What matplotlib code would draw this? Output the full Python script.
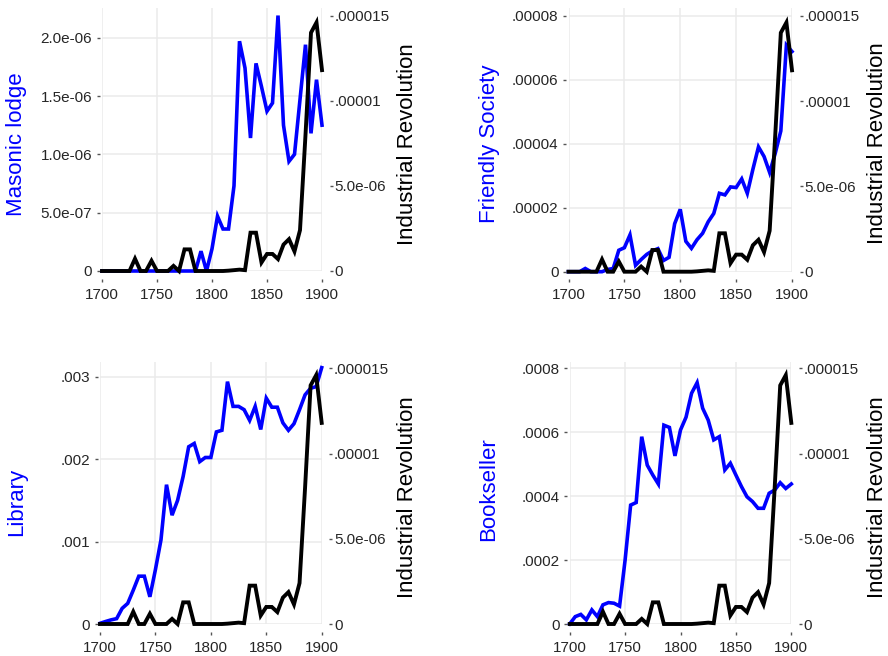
import numpy as np
import matplotlib
matplotlib.use("Agg")
import matplotlib.pyplot as plt

plt.rcParams['font.family'] = ['Liberation Sans', 'DejaVu Sans']

W, H = 888, 656

years = list(range(1700, 1905, 5))

# Industrial Revolution (right axis, same series in every panel), in 1e-6
industrial = np.array([0, 0, 0, 0, 0, 0, 0.72, 0, 0, 0.6,
                       0, 0, 0, 0.3, 0, 1.27, 1.27, 0, 0, 0,
                       0, 0, 0, 0.02, 0.05, 0.08, 0.05, 2.25, 2.25, 0.5,
                       1.0, 1.0, 0.7, 1.55, 1.87, 1.15, 2.4, 8.0, 14.0, 14.6,
                       11.8]) * 1e-6

# blue series (left axis)
masonic = np.array([0, 0, 0, 0, 0, 0, 0, 0, 0, 0,
                    0, 0, 0, 0, 0, 0, 0, 0, 0.17, 0.0,
                    0.19, 0.47, 0.36, 0.36, 0.73, 1.97, 1.74, 1.14, 1.78, 1.58,
                    1.37, 1.44, 2.19, 1.25, 0.94, 1.0, 1.47, 1.94, 1.18, 1.64,
                    1.25]) * 1e-6

friendly = np.array([0, 0, 0, 0.1, 0, 0, 0, 0.07, 0.1, 0.67,
                     0.75, 1.15, 0.2, 0.38, 0.54, 0.65, 0.72, 0.35, 0.45, 1.5,
                     1.95, 0.95, 0.73, 1.0, 1.2, 1.56, 1.82, 2.45, 2.4, 2.65,
                     2.63, 2.9, 2.45, 3.2, 3.9, 3.6, 3.1, 3.7, 4.4, 7.08,
                     6.88]) * 1e-5

library = np.array([0.008, 0.03, 0.05, 0.065, 0.19, 0.25, 0.41, 0.58, 0.58, 0.33,
                    0.66, 1.02, 1.69, 1.32, 1.5, 1.79, 2.15, 2.19, 1.97, 2.02,
                    2.02, 2.33, 2.35, 2.94, 2.64, 2.64, 2.6, 2.47, 2.64, 2.36,
                    2.74, 2.63, 2.63, 2.44, 2.35, 2.43, 2.6, 2.78, 2.86, 2.88,
                    3.11]) * 1e-3

bookseller = np.array([0, 0.23, 0.3, 0.13, 0.44, 0.23, 0.6, 0.67, 0.65, 0.56,
                       2.0, 3.72, 3.8, 5.86, 4.97, 4.66, 4.38, 6.22, 6.15, 5.26,
                       6.07, 6.47, 7.22, 7.55, 6.75, 6.38, 5.76, 5.86, 4.82, 5.03,
                       4.66, 4.3, 3.98, 3.83, 3.62, 3.62, 4.09, 4.19, 4.42, 4.24,
                       4.38]) * 1e-4

right_ticks = [0, 5e-6, 1e-5, 1.5e-5]
right_labels = ['0', '5.0e-06', '.00001', '.000015']

panels = [
    # name, series, left ticks, left labels, box px (x0, x1, ytop, ybot), left top, right top,
    # ylabel pos, right label pos
    ('Masonic lodge', masonic, [0, 5e-7, 1e-6, 1.5e-6, 2e-6],
     ['0', '5.0e-07', '1.0e-06', '1.5e-06', '2.0e-06'],
     (102, 322, 8, 271), 2.2546e-6, 15.45e-6, (17, 144), (407, 144)),
    ('Friendly Society', friendly, [0, 2e-5, 4e-5, 6e-5, 8e-5],
     ['0', '.00002', '.00004', '.00006', '.00008'],
     (568.5, 792, 8, 271.7), 8.241e-5, 15.45e-6, (489, 144), (877, 143)),
    ('Library', library, [0, 1e-3, 2e-3, 3e-3],
     ['0', '.001', '.002', '.003'],
     (100, 321.7, 361.7, 624), 0.003182, 15.39e-6, (17, 502), (407, 497)),
    ('Bookseller', bookseller, [0, 2e-4, 4e-4, 6e-4, 8e-4],
     ['0', '.0002', '.0004', '.0006', '.0008'],
     (569.7, 791.3, 361.7, 624), 0.0008206, 15.39e-6, (489, 489), (877, 497)),
]

fig = plt.figure(figsize=(W / 100, H / 100), dpi=100)

tick_col = '#555555'
lab_col = '#262626'

for name, series, lt, ll, box, ltop, rtop, lpos, rpos in panels:
    x0, x1, yt, yb = box
    ax = fig.add_axes([x0 / W, 1 - yb / H, (x1 - x0) / W, (yb - yt) / H])
    ax.set_axisbelow(True)
    ax.grid(True, color='#ebebeb', linewidth=1.1)
    ax.plot(years, series, color='#0000ff', linewidth=2.6, clip_on=False,
            solid_joinstyle='miter')
    ax.set_xlim(1700, 1900)
    ax.set_ylim(0, ltop)
    ax.set_xticks([1700, 1750, 1800, 1850, 1900])
    ax.set_yticks(lt)
    ax.set_yticklabels(ll)
    for s in ax.spines.values():
        s.set_visible(False)
    ax.spines['left'].set_position(('outward', 1.7))
    ax.spines['bottom'].set_position(('outward', 5.5))
    ax.tick_params(axis='y', length=1.9, width=1, color=tick_col, pad=3.6,
                   labelsize=11, labelcolor=lab_col)
    ax.tick_params(axis='x', length=2.4, width=1, color=tick_col, pad=4,
                   labelsize=11, labelcolor=lab_col)

    ax2 = ax.twinx()
    ax2.plot(years, industrial, color='black', linewidth=2.8, clip_on=False,
             solid_joinstyle='miter')
    ax2.set_ylim(0, rtop)
    ax2.set_yticks(right_ticks)
    ax2.set_yticklabels(right_labels)
    for s in ax2.spines.values():
        s.set_visible(False)
    ax2.spines['right'].set_position(('outward', 5.5))
    ax2.tick_params(axis='y', length=2.4, width=1, color=tick_col, pad=1,
                    labelsize=11, labelcolor=lab_col)

    fig.text(lpos[0] / W, 1 - lpos[1] / H, name, rotation=90, ha='center',
             va='center', fontsize=16, color='#0000ff')
    fig.text(rpos[0] / W, 1 - rpos[1] / H, 'Industrial Revolution', rotation=90,
             ha='center', va='center', fontsize=16, color='black')

fig.savefig('out.png', dpi=100)
